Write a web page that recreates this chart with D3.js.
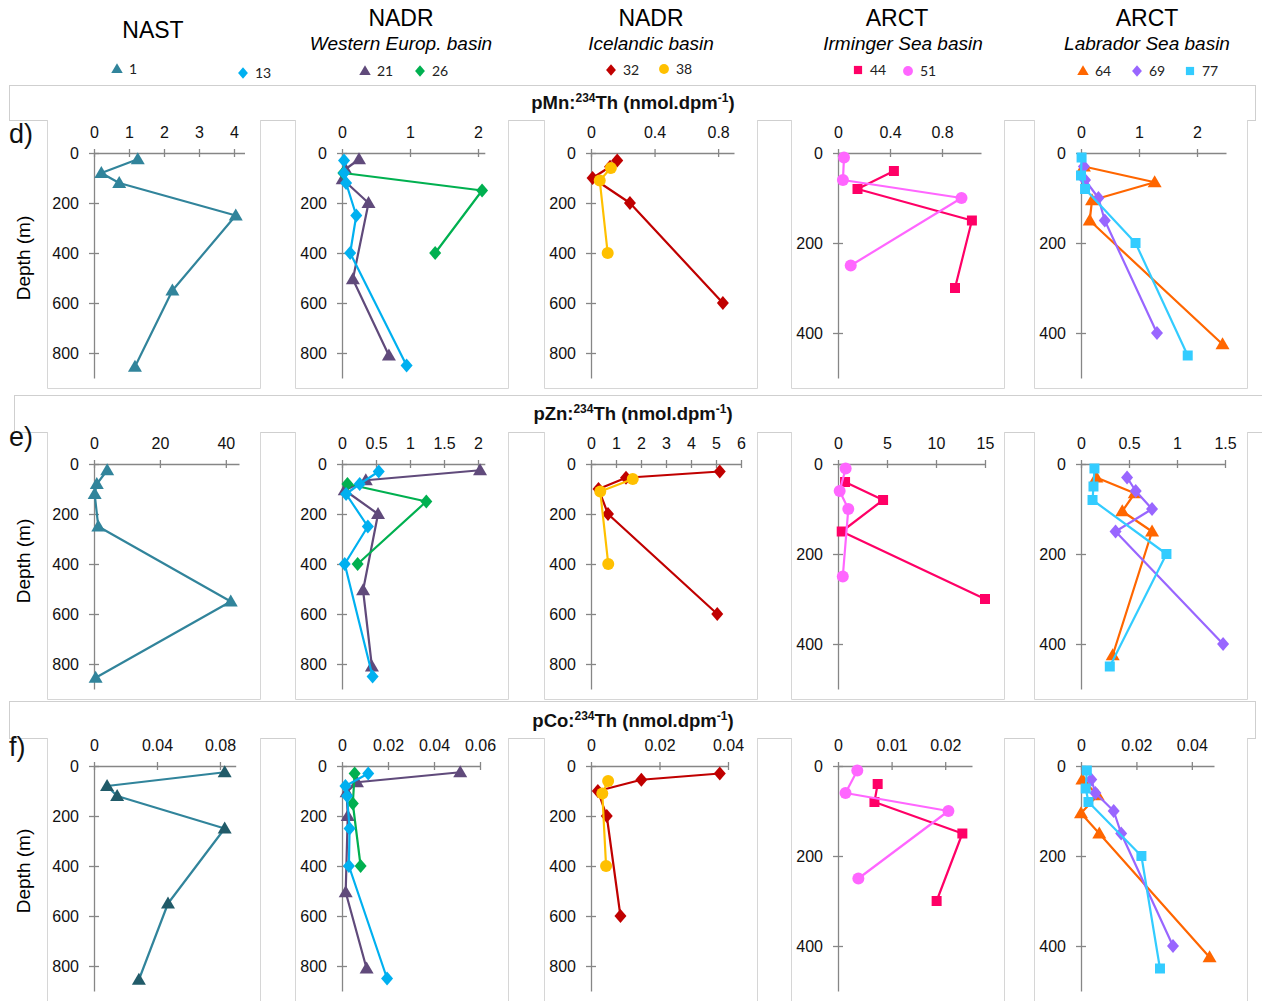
<!DOCTYPE html>
<html><head><meta charset="utf-8">
<script src="https://cdn.jsdelivr.net/npm/d3@7"></script>
<style>body{margin:0;background:#fff}svg{display:block}</style>
</head><body>
<svg id="c" width="1262" height="1001"></svg>
<script>
// ---------------- DATA ----------------
const provinces = ["NAST", "NADR", "NADR", "ARCT", "ARCT"];
const basins = ["", "Western Europ. basin", "Icelandic basin", "Irminger Sea basin", "Labrador Sea basin"];
const stationIds = ["1", "13", "21", "26", "32", "38", "44", "51", "64", "69", "77"];
const elements = ["Mn", "Zn", "Co"];
const rowLetters = ["d)", "e)", "f)"];
const depthTicksDeep = [0, 200, 400, 600, 800];
const depthTicksShallow = [0, 200, 400];

const depth1 = [25, 80, 120, 250, 550, 855];
const mn1 = [1.25, 0.21, 0.72, 4.05, 2.24, 1.17];
const zn1 = [4.0, 0.85, 0.2, 1.3, 41.5, 0.5];
const co1 = [0.083, 0.0083, 0.0147, 0.083, 0.047, 0.0285];

const depth13 = [30, 80, 120, 250, 400, 850];
const mn13 = [0.03, 0.03, 0.06, 0.21, 0.12, 0.95];
const zn13 = [0.54, 0.26, 0.06, 0.38, 0.04, 0.45];
const co13 = [0.0114, 0.0015, 0.0022, 0.0033, 0.003, 0.0196];

const depth21 = [25, 65, 105, 200, 505, 810];
const mn21 = [0.25, 0.05, 0.01, 0.39, 0.16, 0.69];
const zn21 = [2.03, 0.35, 0.04, 0.53, 0.31, 0.44];
const co21 = [0.0514, 0.0065, 0.002, 0.0025, 0.0016, 0.0107];

const depth26 = [30, 80, 150, 400];
const mn26 = [null, 0.02, 2.06, 1.37];
const zn26 = [null, 0.08, 1.24, 0.23];
const co26 = [0.0055, null, 0.0047, 0.0081];

const depth32 = [30, 55, 100, 200, 600];
const mn32 = [0.165, 0.12, 0.01, 0.245, 0.83];
const zn32 = [5.15, 1.4, 0.3, 0.68, 5.05];
const co32 = [0.0376, 0.0147, 0.002, 0.0046, 0.0086];

const depth38 = [60, 110, 400];
const mn38 = [0.125, 0.055, 0.105];
const zn38 = [1.67, 0.37, 0.69];
const co38 = [0.005, 0.0033, 0.0044];

const depth44 = [40, 80, 150, 300];
const mn44 = [0.43, 0.15, 1.03, 0.9];
const zn44 = [0.72, 4.6, 0.38, 15.0];
const co44 = [0.0074, 0.0068, 0.0232, 0.0184];

const depth51 = [10, 60, 100, 250];
const mn51 = [0.046, 0.038, 0.95, 0.098];
const zn51 = [0.78, 0.17, 1.05, 0.49];
const co51 = [0.0036, 0.0014, 0.0206, 0.0038];

const depth64 = [30, 65, 105, 150, 425];
const mn64 = [0.05, 1.27, 0.19, 0.15, 2.44];
const zn64 = [0.16, 0.56, 0.43, 0.74, 0.33];
const co64 = [0.0005, 0.006, 0.0, 0.0066, 0.0464];

const depth69 = [30, 60, 100, 150, 400];
const mn69 = [0.05, 0.07, 0.3, 0.41, 1.31];
const zn69 = [0.48, 0.57, 0.74, 0.36, 1.48];
const co69 = [0.0037, 0.0052, 0.0118, 0.0145, 0.0332];

const depth77 = [10, 50, 80, 200, 450];
const mn77 = [0.01, 0.0, 0.07, 0.94, 1.84];
const zn77 = [0.14, 0.13, 0.12, 0.89, 0.30];
const co77 = [0.0021, 0.0017, 0.0027, 0.0218, 0.0285];

// x-axis maxima and ticks per row (Mn, Zn, Co) and column
const mnXMax = [4.3, 2.1, 0.9, 1.1, 2.5];
const znXMax = [44, 2.1, 6, 15, 1.5];
const coXMax = [0.09, 0.06, 0.04, 0.025, 0.048];
const mnTicks = [[0,1,2,3,4],[0,1,2],[0,0.4,0.8],[0,0.4,0.8],[0,1,2]];
const znTicks = [[0,20,40],[0,0.5,1,1.5,2],[0,1,2,3,4,5,6],[0,5,10,15],[0,0.5,1,1.5]];
const coTicks = [[0,0.04,0.08],[0,0.02,0.04,0.06],[0,0.02,0.04],[0,0.01,0.02],[0,0.02,0.04]];

// ---------------- STYLE / LAYOUT ----------------
const stationStyle = {
  "1":  {color:"#31849B", shape:"triangle"},
  "13": {color:"#00B0F0", shape:"diamond"},
  "21": {color:"#604A7B", shape:"triangle"},
  "26": {color:"#00B050", shape:"diamond"},
  "32": {color:"#C00000", shape:"diamond"},
  "38": {color:"#FFC000", shape:"circle"},
  "44": {color:"#FF0066", shape:"square"},
  "51": {color:"#FF66FF", shape:"circle"},
  "64": {color:"#FF6600", shape:"triangle"},
  "69": {color:"#9966FF", shape:"diamond"},
  "77": {color:"#33CCFF", shape:"square"}
};
const stationData = {
  "1":  {depth:depth1,  Mn:mn1,  Zn:zn1,  Co:co1},
  "13": {depth:depth13, Mn:mn13, Zn:zn13, Co:co13},
  "21": {depth:depth21, Mn:mn21, Zn:zn21, Co:co21},
  "26": {depth:depth26, Mn:mn26, Zn:zn26, Co:co26},
  "32": {depth:depth32, Mn:mn32, Zn:zn32, Co:co32},
  "38": {depth:depth38, Mn:mn38, Zn:zn38, Co:co38},
  "44": {depth:depth44, Mn:mn44, Zn:zn44, Co:co44},
  "51": {depth:depth51, Mn:mn51, Zn:zn51, Co:co51},
  "64": {depth:depth64, Mn:mn64, Zn:zn64, Co:co64},
  "69": {depth:depth69, Mn:mn69, Zn:zn69, Co:co69},
  "77": {depth:depth77, Mn:mn77, Zn:zn77, Co:co77}
};
const panelStations = [["1"], ["21","26","13"], ["32","38"], ["44","51"], ["64","69","77"]];

const colX0 = [94, 342, 591, 838, 1081];
const colXEnd = {
  Mn: [244.5, 484.8, 734, 981, 1226],
  Zn: [239, 484.8, 741, 985, 1225],
  Co: [235.7, 480, 728, 972, 1214]
};
const colYMax = [900, 900, 900, 500, 500];
const rows = [
  {el:"Mn", axisY:153, boxTop:120, boxBottom:388, tb:[9,85,1255,120], titleY:109, letterY:143},
  {el:"Zn", axisY:464, boxTop:432, boxBottom:699, tb:[14,395,1275,432], titleY:420, letterY:446},
  {el:"Co", axisY:766, boxTop:738, boxBottom:1010, tb:[9,701,1255,738], titleY:727, letterY:756}
];
const xMaxByEl = {Mn:mnXMax, Zn:znXMax, Co:coXMax};
const ticksByEl = {Mn:mnTicks, Zn:znTicks, Co:coTicks};

const FONT = "'Liberation Sans', Arial, sans-serif";
const AXIS_COLOR = "#868686";

const svg = d3.select("#c");

function markerPath(shape, s) {
  const k = s || 1;
  if (shape === "triangle") return `M0,${-7*k}L${7*k},${5*k}L${-7*k},${5*k}Z`;
  if (shape === "diamond") return `M0,${-7*k}L${6*k},0L0,${7*k}L${-6*k},0Z`;
  if (shape === "square") return `M${-5*k},${-5*k}H${5*k}V${5*k}H${-5*k}Z`;
  const r = 6*k;
  return `M${r},0A${r},${r} 0 1,1 ${-r},0A${r},${r} 0 1,1 ${r},0Z`;
}

// ---------------- HEADER ----------------
const headerX = [153, 401, 651, 897, 1147];
const basinX = [153, 401, 651, 903, 1147];
provinces.forEach((p, i) => {
  svg.append("text").attr("x", headerX[i]).attr("y", i === 0 ? 38 : 26)
    .attr("text-anchor", "middle").attr("font-family", FONT).attr("font-size", 23).text(p);
  if (basins[i]) svg.append("text").attr("x", basinX[i]).attr("y", 50)
    .attr("text-anchor", "middle").attr("font-family", FONT).attr("font-size", 19)
    .attr("font-style", "italic").text(basins[i]);
});
const legendX = {"1":117,"13":243,"21":365,"26":420,"32":611,"38":664,"44":858,"51":908,"64":1083,"69":1137,"77":1190};
const legendY = {"1":69,"13":73,"21":71,"26":71,"32":70,"38":69,"44":70,"51":71,"64":71,"69":71,"77":71};
stationIds.forEach(id => {
  const st = stationStyle[id];
  svg.append("path").attr("d", markerPath(st.shape, 0.82))
    .attr("transform", `translate(${legendX[id]},${legendY[id]})`).attr("fill", st.color);
  svg.append("text").attr("x", legendX[id] + 12).attr("y", legendY[id] + 5)
    .attr("font-family", "Lato, 'Open Sans', sans-serif").attr("font-size", 14).attr("fill", "#222").text(id);
});

// ---------------- ROWS ----------------
rows.forEach((row, ri) => {
  // title box
  const [bx1, by1, bx2, by2] = row.tb;
  svg.append("rect").attr("x", bx1 + 0.5).attr("y", by1 + 0.5).attr("width", bx2 - bx1).attr("height", by2 - by1)
    .attr("fill", "#fff").attr("stroke", "#cfcfcf").attr("stroke-width", 1);
  const t = svg.append("text").attr("x", 633).attr("y", row.titleY).attr("text-anchor", "middle")
    .attr("font-family", FONT).attr("font-weight", "bold").attr("font-size", 18.5).attr("fill", "#111");
  t.append("tspan").text("p" + row.el + ":");
  t.append("tspan").attr("font-size", 12).attr("dy", -7).text("234");
  t.append("tspan").attr("font-size", 18.5).attr("dy", 7).text("Th (nmol.dpm");
  t.append("tspan").attr("font-size", 12).attr("dy", -7).text("-1");
  t.append("tspan").attr("font-size", 18.5).attr("dy", 7).text(")");

  colX0.forEach((x0, ci) => {
    const left = x0 - 47, right = left + 213;
    // panel box (white, no top edge)
    svg.append("rect").attr("x", left).attr("y", row.boxTop - 1).attr("width", right - left).attr("height", row.boxBottom - row.boxTop + 1)
      .attr("fill", "#fff");
    svg.append("path").attr("d", `M${left+0.5},${row.boxTop}V${row.boxBottom+0.5}H${right+0.5}V${row.boxTop}`)
      .attr("fill", "none").attr("stroke", "#d6d6d6").attr("stroke-width", 1);

    const yMax = colYMax[ci];
    const y = d3.scaleLinear().domain([0, yMax]).range([row.axisY, row.axisY + 225]);
    const x = d3.scaleLinear().domain([0, xMaxByEl[row.el][ci]]).range([x0, colXEnd[row.el][ci]]);
    const g = svg.append("g");

    // y axis
    const yAxis = d3.axisLeft(y).tickValues(yMax === 900 ? depthTicksDeep : depthTicksShallow)
      .tickSizeInner(5).tickSizeOuter(0).tickPadding(10).tickFormat(d3.format("d"));
    const ya = g.append("g").attr("transform", `translate(${x0},0)`).call(yAxis);
    ya.selectAll("line").attr("x1", 5).attr("stroke", AXIS_COLOR).attr("stroke-width", 1.3);
    ya.select(".domain").attr("stroke", AXIS_COLOR).attr("stroke-width", 1.3);
    ya.selectAll("text").attr("font-family", FONT).attr("font-size", 16).attr("fill", "#111");

    // x axis (top)
    const xAxis = d3.axisTop(x).tickValues(ticksByEl[row.el][ci])
      .tickSizeInner(4).tickSizeOuter(0).tickPadding(11).tickFormat(d => String(d));
    const xa = g.append("g").attr("transform", `translate(0,${row.axisY})`).call(xAxis);
    xa.selectAll("line").attr("y1", 4).attr("stroke", AXIS_COLOR).attr("stroke-width", 1.3);
    xa.select(".domain").attr("stroke", AXIS_COLOR).attr("stroke-width", 1.3);
    xa.selectAll("text").attr("font-family", FONT).attr("font-size", 16).attr("fill", "#111");

    // series
    panelStations[ci].forEach(id => {
      const sd = stationData[id], st = stationStyle[id];
      const pts = sd.depth.map((dpt, i) => ({d: dpt, v: sd[row.el][i]})).filter(p => p.v !== null);
      const line = d3.line().x(p => x(p.v)).y(p => y(p.d));
      g.append("path").datum(pts).attr("d", line).attr("fill", "none")
        .attr("stroke", st.color).attr("stroke-width", 2.2).attr("stroke-linejoin", "round");
      const mColor = (id === "1" && row.el === "Co") ? "#215B69" : st.color;
      g.selectAll(null).data(pts).enter().append("path")
        .attr("d", markerPath(st.shape, 1))
        .attr("transform", p => `translate(${x(p.v)},${y(p.d)})`)
        .attr("fill", mColor);
    });

    if (ci === 0) {
      const midY = row.axisY + (ri === 1 ? 97 : 105);
      svg.append("text").attr("transform", `translate(30,${midY}) rotate(-90)`)
        .attr("text-anchor", "middle").attr("font-family", FONT).attr("font-size", 19).text("Depth (m)");
    }
  });

  svg.append("text").attr("x", 9).attr("y", row.letterY).attr("font-family", FONT)
    .attr("font-size", 27).attr("fill", "#111").text(rowLetters[ri]);
});
</script>
</body></html>
